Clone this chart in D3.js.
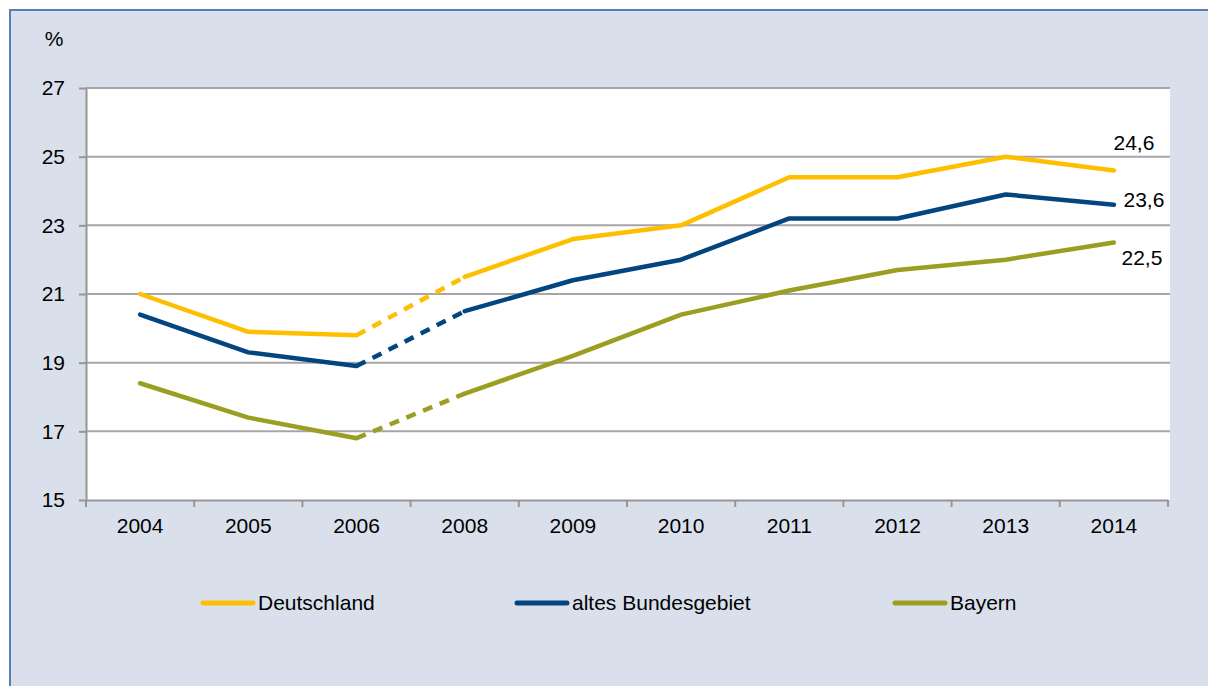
<!DOCTYPE html>
<html>
<head>
<meta charset="utf-8">
<script src="https://cdn.jsdelivr.net/npm/d3@7"></script>
<style>
  body { margin: 0; background: #fff; }
  text { font-family: "Liberation Sans", Arial, sans-serif; fill: #000; }
</style>
</head>
<body>
<div id="canvas"></div>
<script>
const years = ["2004", "2005", "2006", "2008", "2009", "2010", "2011", "2012", "2013", "2014"];
const deutschland = [21.0, 19.9, 19.8, 21.5, 22.6, 23.0, 24.4, 24.4, 25.0, 24.6];
const altesBundesgebiet = [20.4, 19.3, 18.9, 20.5, 21.4, 22.0, 23.2, 23.2, 23.9, 23.6];
const bayern = [18.4, 17.4, 16.8, 18.1, 19.2, 20.4, 21.1, 21.7, 22.0, 22.5];
const yTicks = [15, 17, 19, 21, 23, 25, 27];
const seriesNames = ["Deutschland", "altes Bundesgebiet", "Bayern"];
const colors = ["#fdbf00", "#02457f", "#9c9e22"];
const endLabels = ["24,6", "23,6", "22,5"];
const gapIndex = 2; // segment 2006 -> 2008 is dashed

const width = 1208;
const height = 686;
const margin = { top: 88, left: 86, bottom: 186, right: 40 };

const svg = d3.select("#canvas").append("svg")
    .attr("width", width)
    .attr("height", height);

// outer frame
svg.append("rect")
    .attr("x", 10).attr("y", 10)
    .attr("width", width + 20).attr("height", height + 20)
    .attr("fill", "#d9e0ec")
    .attr("stroke", "#5b7db5")
    .attr("stroke-width", 2);

const x = d3.scaleBand()
    .domain(years)
    .range([margin.left, width - margin.right])
    .paddingInner(0).paddingOuter(0);

const y = d3.scaleLinear()
    .domain([15, 27])
    .range([height - margin.bottom, margin.top]);

// plot area
svg.append("rect")
    .attr("x", margin.left).attr("y", margin.top)
    .attr("width", width - margin.right - margin.left + 2)
    .attr("height", y(15) - margin.top)
    .attr("fill", "#fff");

// gridlines
svg.append("g")
    .selectAll("line")
    .data(yTicks.filter(d => d > 15))
    .enter().append("line")
    .attr("x1", margin.left).attr("x2", width - margin.right + 2)
    .attr("y1", d => y(d)).attr("y2", d => y(d))
    .attr("stroke", "#a6a6a6")
    .attr("stroke-width", 2);

// y axis
const yAxis = svg.append("g")
    .attr("transform", `translate(${margin.left},0)`)
    .call(d3.axisLeft(y).tickValues(yTicks).tickSize(7).tickPadding(14).tickSizeOuter(0));
yAxis.select(".domain").attr("stroke", "#969696").attr("stroke-width", 2);
yAxis.selectAll(".tick line").attr("stroke", "#969696").attr("stroke-width", 2);
yAxis.selectAll(".tick text").style("font-size", "21px").attr("fill", "#000");

// x axis
const xAxis = svg.append("g")
    .attr("transform", `translate(0,${y(15)})`)
    .call(d3.axisBottom(x).tickSize(0).tickPadding(18).tickSizeOuter(0));
xAxis.select(".domain").attr("stroke", "#969696").attr("stroke-width", 2);
xAxis.selectAll(".tick text").style("font-size", "21px").attr("fill", "#000");

const boundaries = years.map(d => x(d)).concat([x.range()[1]]);
xAxis.selectAll(".bound")
    .data(boundaries)
    .enter().append("line")
    .attr("class", "bound")
    .attr("x1", d => d).attr("x2", d => d)
    .attr("y1", 0).attr("y2", 7)
    .attr("stroke", "#969696")
    .attr("stroke-width", 2);

// "%" label
svg.append("text")
    .attr("x", 54).attr("y", 39)
    .attr("dy", "0.35em")
    .attr("text-anchor", "middle")
    .style("font-size", "21px")
    .text("%");

// lines
const allSeries = [deutschland, altesBundesgebiet, bayern];
const line = d3.line()
    .x(d => x(d.year) + x.bandwidth() / 2)
    .y(d => y(d.value));

const lineG = svg.append("g");
allSeries.forEach((values, i) => {
    const pts = years.map((yr, j) => ({ year: yr, value: values[j] }));
    const parts = [
        { data: pts.slice(0, gapIndex + 1), dash: null },
        { data: pts.slice(gapIndex, gapIndex + 2), dash: "10,8" },
        { data: pts.slice(gapIndex + 1), dash: null }
    ];
    parts.forEach(p => {
        lineG.append("path")
            .datum(p.data)
            .attr("d", line)
            .attr("fill", "none")
            .attr("stroke", colors[i])
            .attr("stroke-width", 4.5)
            .attr("stroke-linejoin", "round")
            .attr("stroke-linecap", p.dash ? "butt" : "round")
            .attr("stroke-dasharray", p.dash);
    });
});

// end value labels
const last = years.length - 1;
const lx = x(years[last]) + x.bandwidth() / 2;
const labelOffsets = [[20, -28], [30, -5], [28, 15]];
allSeries.forEach((values, i) => {
    svg.append("text")
        .attr("x", lx + labelOffsets[i][0])
        .attr("y", y(values[last]) + labelOffsets[i][1])
        .attr("dy", "0.35em")
        .attr("text-anchor", "middle")
        .style("font-size", "21px")
        .text(endLabels[i]);
});

// legend
const legendX = [203, 517, 895];
const legendY = 603;
const legend = svg.append("g");
seriesNames.forEach((name, i) => {
    legend.append("line")
        .attr("x1", legendX[i]).attr("x2", legendX[i] + 50)
        .attr("y1", legendY).attr("y2", legendY)
        .attr("stroke", colors[i])
        .attr("stroke-width", 5)
        .attr("stroke-linecap", "round");
    legend.append("text")
        .attr("x", legendX[i] + 55)
        .attr("y", legendY)
        .attr("dy", "0.35em")
        .style("font-size", "21px")
        .text(name);
});
</script>
</body>
</html>
